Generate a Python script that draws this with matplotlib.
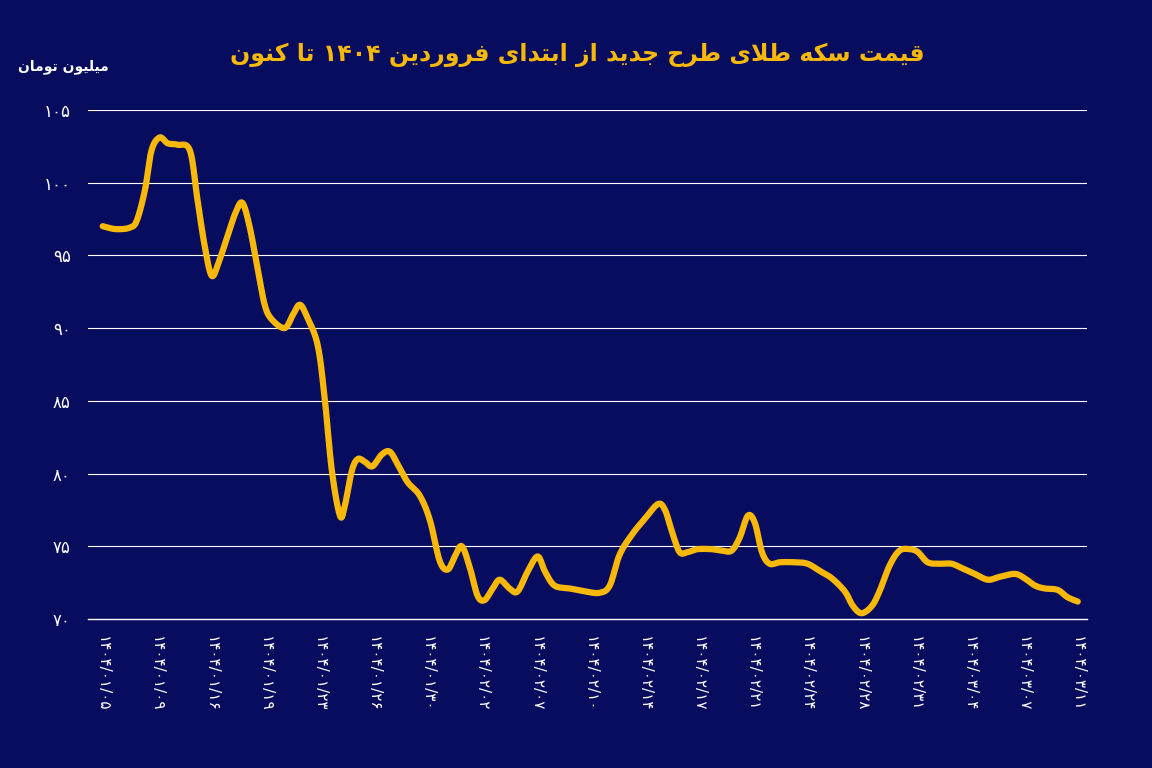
import numpy as np
import matplotlib.pyplot as plt

# simple Persian shaping (presentation forms) since matplotlib has no RTL shaping
FORMS = {
    'ا': (0xFE8D, 0xFE8E, None, None), 'ب': (0xFE8F, 0xFE90, 0xFE91, 0xFE92),
    'ت': (0xFE95, 0xFE96, 0xFE97, 0xFE98), 'ج': (0xFE9D, 0xFE9E, 0xFE9F, 0xFEA0),
    'ح': (0xFEA1, 0xFEA2, 0xFEA3, 0xFEA4), 'د': (0xFEA9, 0xFEAA, None, None),
    'ر': (0xFEAD, 0xFEAE, None, None), 'ز': (0xFEAF, 0xFEB0, None, None),
    'س': (0xFEB1, 0xFEB2, 0xFEB3, 0xFEB4), 'ط': (0xFEC1, 0xFEC2, 0xFEC3, 0xFEC4),
    'ف': (0xFED1, 0xFED2, 0xFED3, 0xFED4), 'ق': (0xFED5, 0xFED6, 0xFED7, 0xFED8),
    'ل': (0xFEDD, 0xFEDE, 0xFEDF, 0xFEE0), 'م': (0xFEE1, 0xFEE2, 0xFEE3, 0xFEE4),
    'ن': (0xFEE5, 0xFEE6, 0xFEE7, 0xFEE8), 'ه': (0xFEE9, 0xFEEA, 0xFEEB, 0xFEEC),
    'و': (0xFEED, 0xFEEE, None, None), 'ی': (0xFBFC, 0xFBFD, 0xFBFE, 0xFBFF),
    'ک': (0xFB8E, 0xFB8F, 0xFB90, 0xFB91),
    'لا': (0xFEFB, 0xFEFC, None, None),
}


def shape_word(w):
    if not any(c in FORMS for c in w):
        return w
    chars = []
    i = 0
    while i < len(w):
        if w[i:i + 2] == 'لا':
            chars.append('لا')
            i += 2
        else:
            chars.append(w[i])
            i += 1
    out = []
    for k, c in enumerate(chars):
        f = FORMS[c]
        prev_j = k > 0 and FORMS[chars[k - 1]][2] is not None
        next_j = k < len(chars) - 1 and f[2] is not None
        if prev_j and next_j:
            code = f[3]
        elif prev_j:
            code = f[1]
        elif next_j:
            code = f[2]
        else:
            code = f[0]
        out.append(chr(code))
    return ''.join(out[::-1])


def fa(text):
    return ' '.join(shape_word(w) for w in text.split(' ')[::-1])


def fa_digits(s):
    return s.translate(str.maketrans('0123456789', '۰۱۲۳۴۵۶۷۸۹'))


def smooth(x, y, n=12):
    # catmull-rom through the read points, just for drawing
    x = np.asarray(x, float)
    y = np.asarray(y, float)
    px = np.concatenate([[x[0]], x, [x[-1]]])
    py = np.concatenate([[y[0]], y, [y[-1]]])
    t = np.linspace(0, 1, n, endpoint=False)
    xs, ys = [], []
    for i in range(1, len(px) - 2):
        for p, out in ((px, xs), (py, ys)):
            p0, p1, p2, p3 = p[i - 1], p[i], p[i + 1], p[i + 2]
            out.extend(0.5 * (2 * p1 + (-p0 + p2) * t + (2 * p0 - 5 * p1 + 4 * p2 - p3) * t ** 2
                              + (-p0 + 3 * p1 - 3 * p2 + p3) * t ** 3))
    xs.append(x[-1])
    ys.append(y[-1])
    return xs, ys


title = 'قیمت سکه طلای طرح جدید از ابتدای فروردین ۱۴۰۴ تا کنون'
unit = 'میلیون تومان'

dates = ['1404/01/05', '1404/01/09', '1404/01/16', '1404/01/19', '1404/01/23',
         '1404/01/26', '1404/01/30', '1404/02/02', '1404/02/07', '1404/02/10',
         '1404/02/14', '1404/02/17', '1404/02/21', '1404/02/24', '1404/02/28',
         '1404/02/31', '1404/03/04', '1404/03/07', '1404/03/11']
yticks = [70, 75, 80, 85, 90, 95, 100, 105]

# position in tick-label units, price in million toman
pos = [0, .24, .50, .63, .78, .90, 1.05, 1.20, 1.38, 1.61, 1.75, 1.88, 2.01, 2.14,
       2.31, 2.46, 2.58, 2.71, 2.86, 2.99, 3.12, 3.36, 3.51, 3.64, 3.78, 3.97, 4.10,
       4.23, 4.38, 4.47, 4.60, 4.71, 4.84, 4.98, 5.15, 5.30, 5.45, 5.63, 5.85, 6.04,
       6.22, 6.37, 6.50, 6.63, 6.78, 6.92, 7.05, 7.20, 7.33, 7.51, 7.66, 7.85, 8.03,
       8.16, 8.34, 8.62, 8.90, 9.17, 9.36, 9.54, 9.77, 10.01, 10.25, 10.38, 10.51,
       10.65, 10.80, 10.98, 11.24, 11.43, 11.61, 11.76, 11.91, 12.04, 12.17, 12.31,
       12.50, 12.77, 13.01, 13.24, 13.46, 13.70, 13.85, 14.01, 14.20, 14.34, 14.53,
       14.71, 14.90, 15.05, 15.23, 15.45, 15.67, 15.86, 16.10, 16.34, 16.56, 16.84,
       17.02, 17.21, 17.39, 17.63, 17.81, 18.00]
price = [97.0, 96.8, 96.9, 97.4, 99.5, 102.2, 103.1, 102.7, 102.6, 102.2, 98.8, 95.7,
         93.6, 94.5, 96.4, 98.0, 98.6, 97.0, 94.1, 91.6, 90.6, 90.0, 90.9, 91.6, 90.7,
         88.8, 85.1, 80.2, 77.1, 77.8, 80.2, 81.0, 80.8, 80.5, 81.3, 81.5, 80.6, 79.4,
         78.5, 76.8, 74.0, 73.4, 74.3, 75.0, 73.5, 71.6, 71.3, 72.1, 72.7, 72.1, 71.9,
         73.3, 74.3, 73.3, 72.3, 72.1, 71.9, 71.8, 72.3, 74.4, 75.8, 76.9, 77.9, 77.5,
         76.0, 74.6, 74.6, 74.8, 74.8, 74.7, 74.7, 75.6, 77.1, 76.6, 74.6, 73.8, 73.9,
         73.9, 73.8, 73.3, 72.8, 71.9, 70.9, 70.4, 70.9, 71.9, 73.7, 74.7, 74.8, 74.6,
         73.9, 73.8, 73.8, 73.5, 73.1, 72.7, 72.9, 73.1, 72.8, 72.3, 72.1, 72.0, 71.5,
         71.2]

bg = '#080c5e'
gold = '#f8b80a'

plt.rcParams['font.family'] = 'DejaVu Sans'
fig = plt.figure(figsize=(11.52, 7.68), dpi=100, facecolor=bg)
ax = fig.add_axes([0.076, 0.194, 0.868, 0.663], facecolor=bg)

for v in yticks[1:]:
    ax.axhline(v, color='white', lw=0.8, zorder=1)
sx, sy = smooth(pos, price)
ax.plot(sx, sy, color=gold, lw=4.5, solid_capstyle='round',
        solid_joinstyle='round', zorder=3)

ax.set_xlim(-0.28, 18.18)
ax.set_ylim(70, 105)
ax.set_yticks(yticks)
ax.set_yticklabels([fa_digits(str(v)) for v in yticks], color='white', fontsize=12)
ax.set_xticks(range(len(dates)))
ax.set_xticklabels([fa_digits(d) for d in dates], rotation=-90, color='white',
                   fontsize=11, va='top')
ax.tick_params(axis='both', length=0, pad=12)
for s in ['top', 'right', 'left']:
    ax.spines[s].set_visible(False)
ax.spines['bottom'].set_color('white')
ax.spines['bottom'].set_linewidth(1)

fig.text(0.501, 0.928, fa(title), color=gold, fontsize=17, fontweight='bold',
         ha='center', va='center')
fig.text(0.055, 0.913, fa(unit), color='white', fontsize=10, fontweight='bold',
         ha='center', va='center')

fig.savefig('out.png', dpi=100, facecolor=bg)
